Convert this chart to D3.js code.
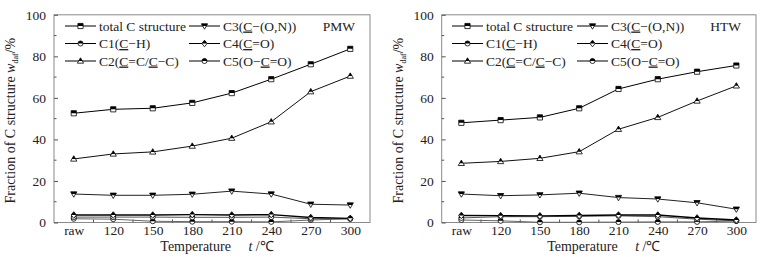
<!DOCTYPE html>
<html><head><meta charset="utf-8">
<script src="https://cdn.jsdelivr.net/npm/d3@7"></script>
<style>body{margin:0;background:#fff}svg,svg text{font-family:'Liberation Serif','Times New Roman',Times,serif}</style>
</head><body><svg id="c" width="776" height="257"></svg>
<script>
const categories = ["raw","120","150","180","210","240","270","300"];
const yTicks = [0,20,40,60,80,100];
const seriesNames = ["total C structure","C1","C2","C3","C4","C5"];
// PMW
const pmwTotal = [52.6,54.5,55.0,57.6,62.3,69.0,76.2,83.6];
const pmwC1 = [1.8,1.6,0.6,0.4,0.4,0.3,1.2,1.8];
const pmwC2 = [30.6,33.0,34.0,36.8,40.6,48.5,63.0,70.5];
const pmwC3 = [13.7,13.1,13.1,13.6,15.1,13.7,8.8,8.4];
const pmwC4 = [3.6,3.6,3.6,3.8,3.6,3.8,2.4,2.0];
const pmwC5 = [2.6,2.6,2.6,2.5,2.5,2.6,1.8,1.8];
// HTW
const htwTotal = [48.0,49.3,50.6,55.0,64.3,69.0,72.6,75.6];
const htwC1 = [1.2,0.8,0.1,0.1,0.2,0.3,0.3,0.7];
const htwC2 = [28.5,29.4,30.9,34.1,44.9,50.6,58.5,65.8];
const htwC3 = [13.7,12.9,13.3,14.1,12.0,11.3,9.5,6.4];
const htwC4 = [3.4,3.3,3.2,3.4,3.6,3.6,2.2,1.2];
const htwC5 = [2.2,2.8,2.8,3.0,3.2,2.8,1.6,0.8];

const FONT = "'Liberation Serif','Times New Roman',Times,serif";
const svg = d3.select("#c");
const defs = svg.append("defs");
defs.append("clipPath").attr("id","half").append("rect").attr("x",-10).attr("y",-10).attr("width",20).attr("height",10);

const markerSym = {
  total: "M-2.6,-2.6H2.6V2.6H-2.6Z",
  C1: d3.symbol(d3.symbolCircle, 20)(),
  C2: "M0,-3.2L3.1,2.2L-3.1,2.2Z",
  C3: "M-3.1,-2.2L3.1,-2.2L0,3.2Z",
  C4: "M0,-3.3L2.7,0L0,3.3L-2.7,0Z",
  C5: d3.symbol(d3.symbolCircle, 20)()
};

function marker(g, key, x, y){
  const m = g.append("g").attr("transform",`translate(${x},${y})`);
  m.append("path").attr("d",markerSym[key]).attr("fill","#fff").attr("stroke","#000").attr("stroke-width",0.8);
  m.append("path").attr("d",markerSym[key]).attr("fill","#000").attr("clip-path","url(#half)");
}

function panel(x0, x1, label, data, leg){
  const y0 = 222.5, yTop = 14.8;
  const x = d3.scalePoint().domain(categories).range([x0,x1]).padding(0.5);
  const y = d3.scaleLinear().domain([0,100]).range([y0,yTop]);
  const g = svg.append("g").attr("font-family",FONT);
  g.append("rect").attr("x",x0).attr("y",yTop).attr("width",x1-x0).attr("height",y0-yTop)
    .attr("fill","none").attr("stroke","#8a8a8a").attr("stroke-width",1);
  const ya = g.append("g").attr("transform",`translate(${x0},0)`)
    .call(d3.axisLeft(y).tickValues(yTicks).tickSize(-4).tickPadding(8).tickFormat(d3.format("d")));
  ya.attr("font-family",FONT);
  ya.select(".domain").remove();
  ya.selectAll("line").attr("stroke","#555");
  ya.selectAll("text").attr("font-size",13.5).attr("font-family",FONT).attr("fill","#222");
  g.selectAll(".ymin").data([10,30,50,70,90]).join("line")
    .attr("x1",x0).attr("x2",x0+2.5).attr("y1",d=>y(d)).attr("y2",d=>y(d)).attr("stroke","#555");
  const xa = g.append("g").attr("transform",`translate(0,${y0})`)
    .call(d3.axisBottom(x).tickSize(0).tickPadding(3));
  xa.attr("font-family",FONT);
  xa.select(".domain").remove();
  xa.selectAll("text").attr("font-size",13.5).attr("font-family",FONT).attr("fill","#222");
  const mids = categories.slice(0,-1).map((c,i)=>(x(c)+x(categories[i+1]))/2);
  g.selectAll(".xmin").data(mids).join("line")
    .attr("x1",d=>d).attr("x2",d=>d).attr("y1",y0).attr("y2",y0-3).attr("stroke","#555");
  const cx = (x0+x1)/2 + 5;
  const xt = g.append("text").attr("x",cx).attr("y",251).attr("text-anchor","middle").attr("font-size",14).attr("fill","#222");
  xt.append("tspan").text("Temperature\u2003 ");
  xt.append("tspan").attr("font-style","italic").text("t");
  xt.append("tspan").text(" /\u2103");
  const yt = g.append("text").attr("transform",`translate(${x0-39},${(y0+yTop)/2+2}) rotate(-90)`)
    .attr("text-anchor","middle").attr("font-size",14).attr("fill","#222");
  yt.append("tspan").text("Fraction of C structure ");
  yt.append("tspan").attr("font-style","italic").text("w");
  yt.append("tspan").attr("font-size",8).attr("dy",3).text("daf");
  yt.append("tspan").attr("dy",-3).text("/%");
  const line = d3.line().x((d,i)=>x(categories[i])).y(d=>y(d));
  const order = ["C1","C5","C4","C3","C2","total"];
  const colors = {total:"#000",C1:"#666",C2:"#111",C3:"#222",C4:"#000",C5:"#555"};
  const widths = {total:1,C1:1,C2:1,C3:1,C4:1.4,C5:1};
  order.forEach(k=>{
    g.append("path").datum(data[k]).attr("d",line).attr("fill","none").attr("stroke",colors[k]).attr("stroke-width",widths[k]);
  });
  order.forEach(k=>{
    data[k].forEach((v,i)=>marker(g,k,x(categories[i]),y(v)));
  });
  const rows = [26,43.5,61];
  const items = [
    [["total",[{t:"total C structure"}]],["C1",[{t:"C1("},{t:"C",u:1},{t:"\u2212H)"}]],["C2",[{t:"C2("},{t:"C",u:1},{t:"=C/"},{t:"C",u:1},{t:"\u2212C)"}]]],
    [["C3",[{t:"C3("},{t:"C",u:1},{t:"\u2212(O,N))"}]],["C4",[{t:"C4("},{t:"C",u:1},{t:"=O)"}]],["C5",[{t:"C5(O\u2212"},{t:"C",u:1},{t:"=O)"}]]]
  ];
  items.forEach((col,ci)=>{
    const lx = leg[ci];
    col.forEach((it,ri)=>{
      const ry = rows[ri];
      g.append("line").attr("x1",lx).attr("x2",lx+31).attr("y1",ry).attr("y2",ry).attr("stroke","#000").attr("stroke-width",1);
      marker(g,it[0],lx+15.5,ry);
      const t = g.append("text").attr("x",lx+34).attr("y",ry+4.5).attr("font-size",13.5).attr("fill","#222");
      it[1].forEach(p=>{
        const s = t.append("tspan").text(p.t);
        if(p.u) s.attr("text-decoration","underline");
      });
    });
  });
  g.append("text").attr("x",x1-15).attr("y",31).attr("text-anchor","end").attr("font-size",13.5).attr("fill","#222").text(label);
}

panel(54, 370, "PMW", {total:pmwTotal,C1:pmwC1,C2:pmwC2,C3:pmwC3,C4:pmwC4,C5:pmwC5}, [65,189]);
panel(441.7, 756, "HTW", {total:htwTotal,C1:htwC1,C2:htwC2,C3:htwC3,C4:htwC4,C5:htwC5}, [452,577]);
</script></body></html>
